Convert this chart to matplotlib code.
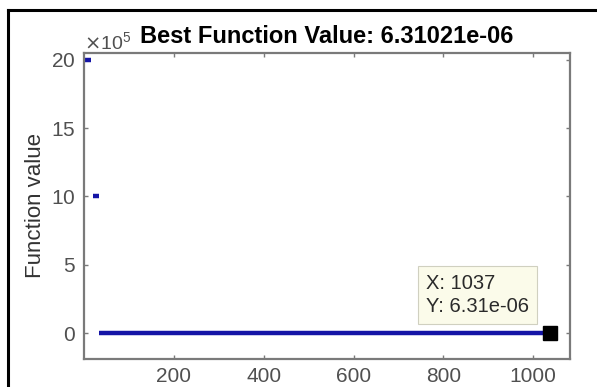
import numpy as np
import matplotlib
matplotlib.use('Agg')
import matplotlib.pyplot as plt
from matplotlib.lines import Line2D

plt.rcParams['font.family'] = ['Liberation Sans', 'DejaVu Sans']

# best function value per iteration, as runs of constant value
run_start = [1, 19, 34]
run_end = [15, 33, 1037]
run_value = [2.0e6, 1.0e6, 6.31021e-06]

best_iter = 1037
best_value = 6.31021e-06

line_col = '#1414a6'
axis_col = '#7a7a7a'
tick_col = '#505050'

fig = plt.figure(figsize=(5.97, 3.87), dpi=100)
ax = fig.add_axes([84 / 597, 1 - 359 / 387, (570 - 84) / 597, (359 - 53) / 387])

ax.hlines(run_value, run_start, run_end, colors=line_col, linewidth=3.2)
ax.plot([best_iter], [best_value], marker='s', markersize=10.5, color='black', linestyle='none', zorder=5)

ax.annotate(f'X: {best_iter}\nY: {best_value:.3g}', xy=(best_iter, best_value),
            xytext=(-72, 38), textcoords='offset pixels', ha='center', va='center',
            multialignment='left', fontsize=14.5, color='#2a2a2a', linespacing=1.3,
            bbox=dict(boxstyle='square,pad=0.4', facecolor='#fbfbea', edgecolor='#d0d0c0', linewidth=0.8))

ax.set_xlim(0, 1082)
ax.set_ylim(-1.9e5, 20.5e5)
ax.set_xticks([200, 400, 600, 800, 1000])
ax.set_yticks([0, 5e5, 10e5, 15e5, 20e5])
ax.ticklabel_format(axis='y', style='sci', scilimits=(5, 5), useMathText=True)
ax.yaxis.get_offset_text().set_color('#8a8a8a')
ax.yaxis.get_offset_text().set_fontsize(14)

for s in ax.spines.values():
    s.set_color(axis_col)
    s.set_linewidth(1.6)
ax.tick_params(direction='in', length=3, width=1, colors=axis_col, labelcolor=tick_col,
               labelsize=15, top=True, right=True, pad=6)

ax.set_ylabel('Function value', fontsize=16, color='#333333', labelpad=4)
ax.set_title('Best Function Value: 6.31021e-06', fontsize=17, fontweight='bold', pad=7)

# frame lines along the left and top of the figure
fig.add_artist(Line2D([8 / 597, 8 / 597], [0, 1 - 10 / 387], transform=fig.transFigure, color='black', linewidth=2.2))
fig.add_artist(Line2D([8 / 597, 1], [1 - 10 / 387, 1 - 10 / 387], transform=fig.transFigure, color='black', linewidth=2.2))

fig.savefig('out.png', dpi=100)
